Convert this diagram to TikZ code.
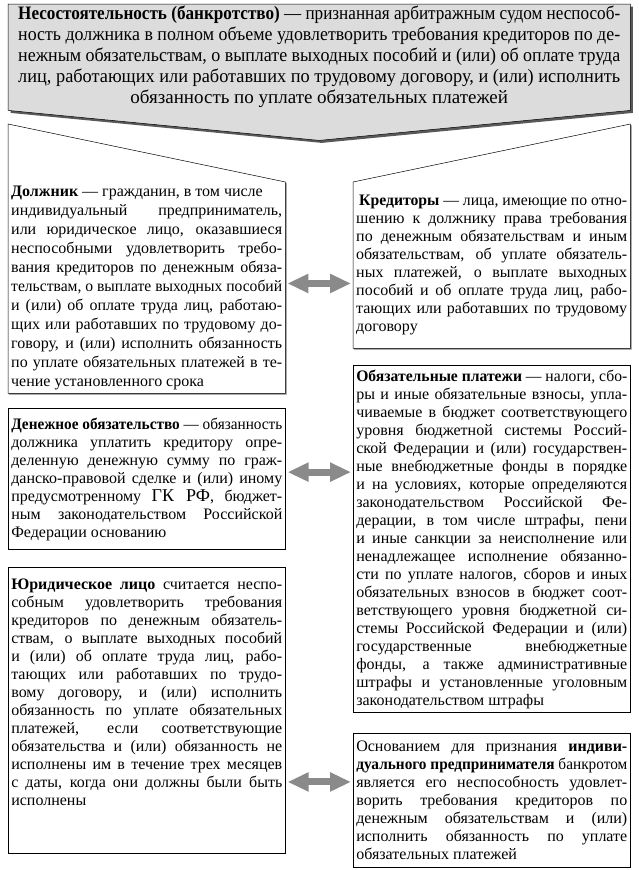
\documentclass[tikz,border=0pt]{standalone}
\usepackage{fontspec}
\usepackage{graphicx}
\setmainfont{Liberation Serif}
\usetikzlibrary{calc,arrows.meta,positioning,backgrounds,shadows}
\definecolor{arrowgray}{HTML}{8A8A8A}
\definecolor{capgray}{HTML}{DCDCDC}
\newcommand{\bodyfont}{\fontsize{16}{18}\selectfont}
\newcommand{\capfont}{\fontsize{19}{21}\selectfont}
% one printed line, set to the full width of its box
\newlength{\fitwd}
\newcommand{\fitline}[1]{\settowidth{\fitwd}{#1}%
  \ifdim\fitwd>\linewidth\resizebox{\linewidth}{\height}{#1}%
  \else\makebox[\linewidth][s]{#1}\fi\\}

\begin{document}
\begin{tikzpicture}[
  x=1pt, y=1pt,
  txt/.style={text width=271pt, inner xsep=3pt, inner ysep=3pt, align=justify, font=\bodyfont, anchor=north west},
  box/.style={txt, draw, line width=0.6pt},
  biarr/.style={{Triangle[length=21pt,width=18pt]}-{Triangle[length=21pt,width=18pt]}, line width=7pt, draw=arrowgray, shorten <=2pt, shorten >=2pt}
]
\useasboundingbox (0,0) rectangle (638,-870);

% definition on top
\node[txt, text width=602pt, inner xsep=10pt, inner ysep=2pt, font=\capfont, minimum height=106pt] (insolv) at (8,-4)
  {\fitline{\textbf{Несостоятельность (банкротство)} — признанная арбитражным судом неспособ-}
   \fitline{ность должника в полном объеме удовлетворить требования кредиторов по де-}
   \fitline{нежным обязательствам, о выплате выходных пособий и (или) об оплате труда}
   \fitline{лиц, работающих или работавших по трудовому договору, и (или) исполнить}
   \makebox[\linewidth]{обязанность по уплате обязательных платежей}};

% parties
\node[txt, font=\fontsize{16}{19}\selectfont, minimum height=211pt] (debtor) at (8,-182)
  {\textbf{Должник} — гражданин, в том числе\\
   \fitline{индивидуальный предприниматель,}
   \fitline{или юридическое лицо, оказавшиеся}
   \fitline{неспособными удовлетворить требо-}
   \fitline{вания кредиторов по денежным обяза-}
   \fitline{тельствам, о выплате выходных пособий}
   \fitline{и (или) об оплате труда лиц, работаю-}
   \fitline{щих или работавших по трудовому до-}
   \fitline{говору, и (или) исполнить обязанность}
   \fitline{по уплате обязательных платежей в те-}
   чение установленного срока};
\node[txt, minimum height=166pt] (creditors) at (353,-182)
  {\fitline{\hspace*{3pt}\textbf{Кредиторы} — лица, имеющие по отно-}
   \fitline{шению к должнику права требования}
   \fitline{по денежным обязательствам и иным}
   \fitline{обязательствам, об уплате обязатель-}
   \fitline{ных платежей, о выплате выходных}
   \fitline{пособий и об оплате труда лиц, рабо-}
   \fitline{тающих или работавших по трудовому}
   договору};

% left column
\node[box, below=15pt of debtor.south west, anchor=north west, minimum height=141pt] (money)
  {\fitline{\textbf{Денежное обязательство} — обязанность}
   \fitline{должника уплатить кредитору опре-}
   \fitline{деленную денежную сумму по граж-}
   \fitline{данско-правовой сделке и (или) иному}
   \fitline{предусмотренному {\fontsize{18}{18}\selectfont ГК РФ}, бюджет-}
   \fitline{ным законодательством Российской}
   Федерации основанию};
\node[box, below=17pt of money.south west, anchor=north west, minimum height=286pt] (legal)
  {\fitline{\textbf{Юридическое лицо} считается неспо-}
   \fitline{собным удовлетворить требования}
   \fitline{кредиторов по денежным обязатель-}
   \fitline{ствам, о выплате выходных пособий}
   \fitline{и (или) об оплате труда лиц, рабо-}
   \fitline{тающих или работавших по трудо-}
   \fitline{вому договору, и (или) исполнить}
   \fitline{обязанность по уплате обязательных}
   \fitline{платежей, если соответствующие}
   \fitline{обязательства и (или) обязанность не}
   \fitline{исполнены им в течение трех месяцев}
   \fitline{с даты, когда они должны были быть}
   исполнены\\[18pt]\mbox{}};

% right column
\node[box, below=17pt of creditors.south west, anchor=north west, minimum height=347pt] (payments)
  {\fitline{\textbf{Обязательные платежи} — налоги, сбо-}
   \fitline{ры и иные обязательные взносы, упла-}
   \fitline{чиваемые в бюджет соответствующего}
   \fitline{уровня бюджетной системы Россий-}
   \fitline{ской Федерации и (или) государствен-}
   \fitline{ные внебюджетные фонды в порядке}
   \fitline{и на условиях, которые определяются}
   \fitline{законодательством Российской Фе-}
   \fitline{дерации, в том числе штрафы, пени}
   \fitline{и иные санкции за неисполнение или}
   \fitline{ненадлежащее исполнение обязанно-}
   \fitline{сти по уплате налогов, сборов и иных}
   \fitline{обязательных взносов в бюджет соот-}
   \fitline{ветствующего уровня бюджетной си-}
   \fitline{стемы Российской Федерации и (или)}
   \fitline{государственные внебюджетные}
   \fitline{фонды, а также административные}
   \fitline{штрафы и установленные уголовным}
   законодательством штрафы};
\node[box, below=20pt of payments.south west, anchor=north west, minimum height=134pt] (entrep)
  {\fitline{Основанием для признания \textbf{индиви-}}
   \fitline{\textbf{дуального предпринимателя} банкротом}
   \fitline{является его неспособность удовлет-}
   \fitline{ворить требования кредиторов по}
   \fitline{денежным обязательствам и (или)}
   \fitline{исполнить обязанность по уплате}
   обязательных платежей};

% outlines behind the texts
\begin{scope}[on background layer]
\filldraw[fill=capgray, line width=0.5pt, drop shadow={shadow xshift=2.5pt, shadow yshift=-2.5pt, fill=gray!70!black, opacity=1}]
  (insolv.north west) -- (insolv.north east) -- (insolv.south east)
  -- ($(insolv.south)+(0,-30)$) -- (insolv.south west) -- cycle;
\filldraw[fill=white, line width=0.5pt, drop shadow={shadow xshift=1.2pt, shadow yshift=-1.2pt, fill=gray, opacity=1}]
  ($(debtor.north west)+(0,58)$) -- (debtor.north east) -- (debtor.south east) -- (debtor.south west) -- cycle;
\filldraw[fill=white, line width=0.5pt, drop shadow={shadow xshift=1.2pt, shadow yshift=-1.2pt, fill=gray, opacity=1}]
  (creditors.north west) -- ($(creditors.north east)+(0,58)$) -- (creditors.south east) -- (creditors.south west) -- cycle;
\end{scope}

% links between columns
\coordinate (a1) at ($(debtor.north east)!.48!(debtor.south east)$);
\coordinate (a2) at ($(money.north east)!.45!(money.south east)$);
\coordinate (a3) at ($(legal.north east)!.75!(legal.south east)$);
\draw[biarr] (a1) -- (a1 -| creditors.west);
\draw[biarr] (a2) -- (a2 -| payments.west);
\draw[biarr] (a3) -- (a3 -| entrep.west);
\end{tikzpicture}
\end{document}
